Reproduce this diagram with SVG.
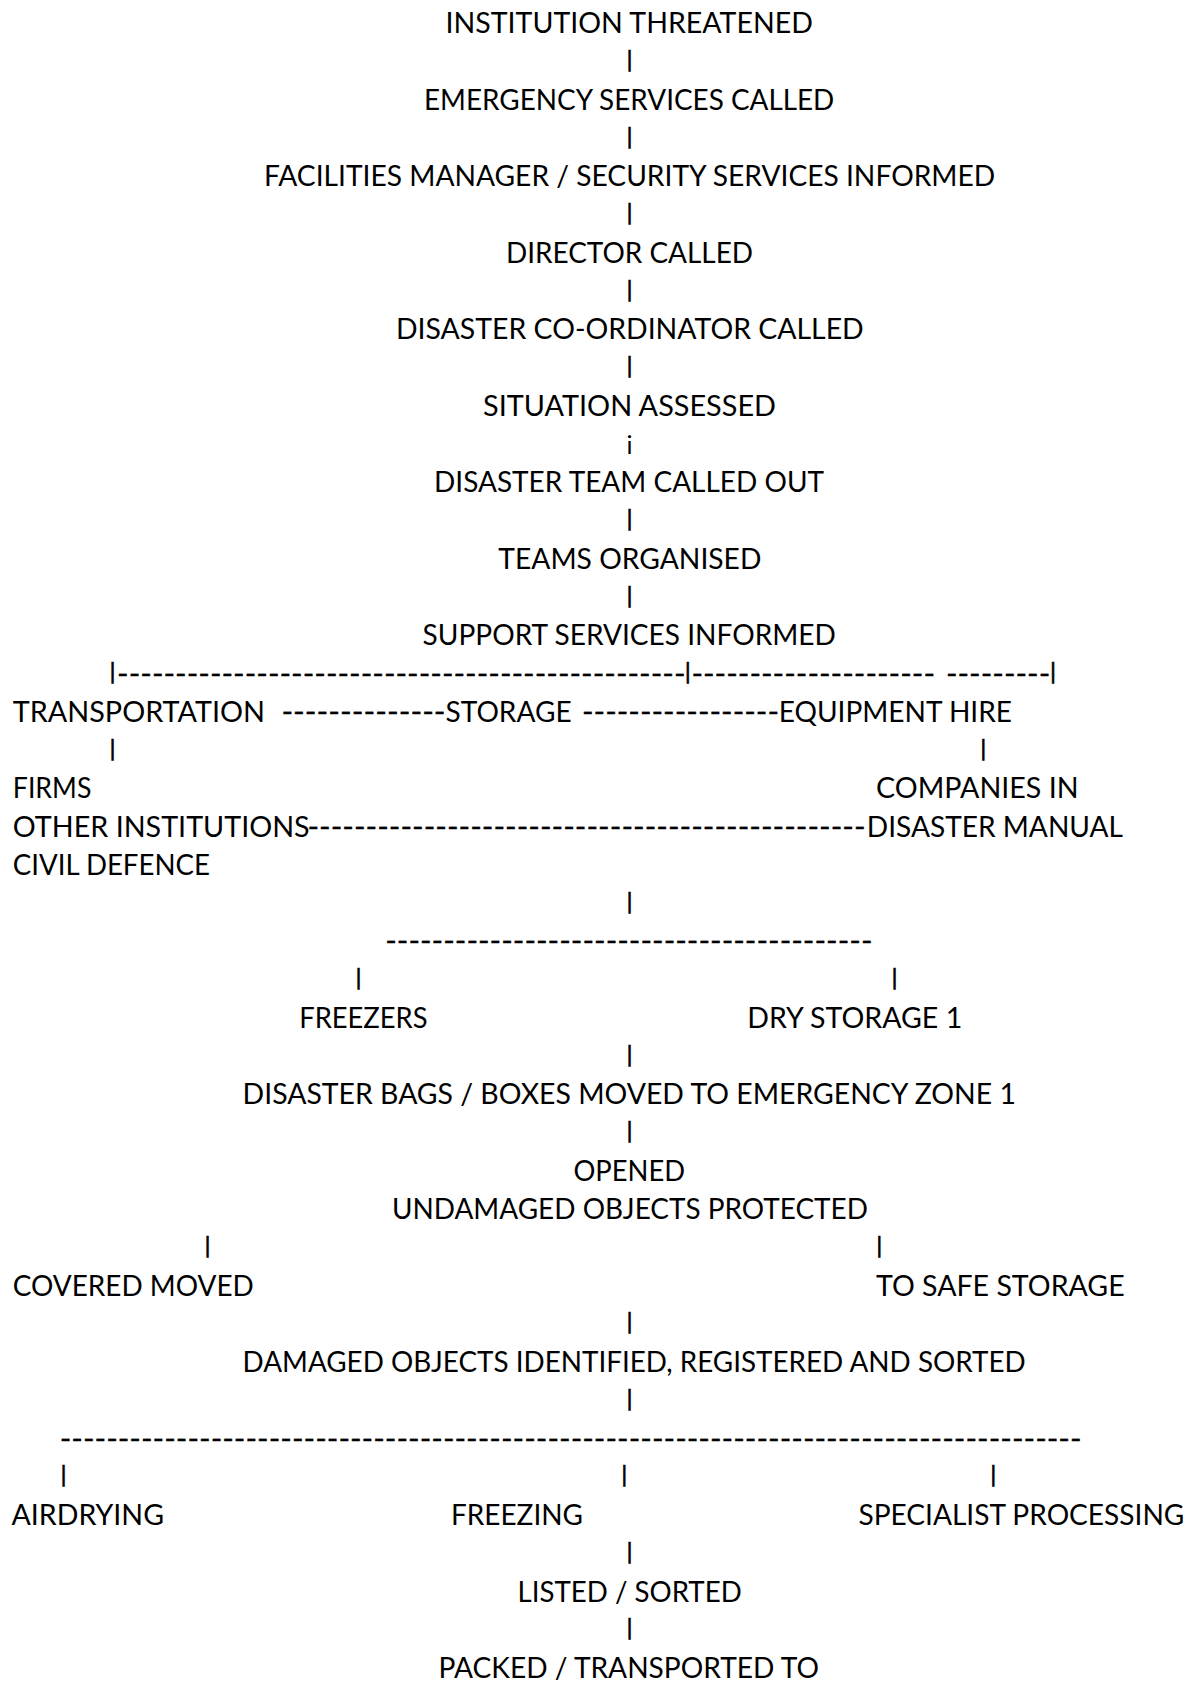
<svg xmlns="http://www.w3.org/2000/svg" width="1201" height="1706" viewBox="0 0 1201 1706">
<style>
text{font-family:Lato,"Open Sans","Liberation Sans",sans-serif;font-size:29px;fill:#000}
.bar{font-family:"DejaVu Sans",sans-serif;font-size:21px;text-anchor:middle;stroke:#000;stroke-width:0.6}
.dash{font-family:Lato,"Open Sans",sans-serif;font-size:29px;stroke:#000;stroke-width:0.3}
.i{font-size:25px;text-anchor:middle}
</style>
<rect width="1201" height="1706" fill="#fff"/>
<g id="nodes">
<g id="n-institution"><text x="445.5" y="33.3" textLength="367.4" lengthAdjust="spacingAndGlyphs">INSTITUTION THREATENED</text></g>
<g id="n-emergency"><text x="424" y="109.8" textLength="410.3" lengthAdjust="spacingAndGlyphs">EMERGENCY SERVICES CALLED</text></g>
<g id="n-facilities"><text x="264" y="186.3" textLength="731.2" lengthAdjust="spacingAndGlyphs">FACILITIES MANAGER / SECURITY SERVICES INFORMED</text></g>
<g id="n-director"><text x="506" y="262.8" textLength="247" lengthAdjust="spacingAndGlyphs">DIRECTOR CALLED</text></g>
<g id="n-coordinator"><text x="396" y="339.3" textLength="467.7" lengthAdjust="spacingAndGlyphs">DISASTER CO-ORDINATOR CALLED</text></g>
<g id="n-situation"><text x="483" y="415.8" textLength="293" lengthAdjust="spacingAndGlyphs">SITUATION ASSESSED</text></g>
<g id="n-team"><text x="434" y="492.3" textLength="390" lengthAdjust="spacingAndGlyphs">DISASTER TEAM CALLED OUT</text></g>
<g id="n-teams"><text x="498.3" y="568.8" textLength="263.1" lengthAdjust="spacingAndGlyphs">TEAMS ORGANISED</text></g>
<g id="n-support"><text x="422.6" y="645.3" textLength="413.3" lengthAdjust="spacingAndGlyphs">SUPPORT SERVICES INFORMED</text></g>
<g id="n-transportation"><text x="12.8" y="721.8" textLength="252.2" lengthAdjust="spacingAndGlyphs">TRANSPORTATION</text></g>
<g id="n-storage"><text x="445.5" y="721.8" textLength="126.1" lengthAdjust="spacingAndGlyphs">STORAGE</text></g>
<g id="n-equipment"><text x="778.7" y="721.8" textLength="233.3" lengthAdjust="spacingAndGlyphs">EQUIPMENT HIRE</text></g>
<g id="n-firms">
<text x="12.8" y="798.3" textLength="78.6" lengthAdjust="spacingAndGlyphs">FIRMS</text>
<text x="12.8" y="836.55" textLength="296.9" lengthAdjust="spacingAndGlyphs">OTHER INSTITUTIONS</text>
<text x="12.8" y="874.8" textLength="197.2" lengthAdjust="spacingAndGlyphs">CIVIL DEFENCE</text>
</g>
<g id="n-companies">
<text x="876" y="798.3" textLength="202.6" lengthAdjust="spacingAndGlyphs">COMPANIES IN</text>
<text x="866.8" y="836.55" textLength="256.2" lengthAdjust="spacingAndGlyphs">DISASTER MANUAL</text>
</g>
<g id="n-freezers"><text x="299.2" y="1027.8" textLength="128.4" lengthAdjust="spacingAndGlyphs">FREEZERS</text></g>
<g id="n-drystorage"><text x="747.3" y="1027.8" textLength="214.9" lengthAdjust="spacingAndGlyphs">DRY STORAGE 1</text></g>
<g id="n-bags"><text x="242.6" y="1104.3" textLength="773.3" lengthAdjust="spacingAndGlyphs">DISASTER BAGS / BOXES MOVED TO EMERGENCY ZONE 1</text></g>
<g id="n-opened">
<text x="573.4" y="1180.8" textLength="111.6" lengthAdjust="spacingAndGlyphs">OPENED</text>
<text x="391.9" y="1219.05" textLength="476.1" lengthAdjust="spacingAndGlyphs">UNDAMAGED OBJECTS PROTECTED</text>
</g>
<g id="n-covered"><text x="12.8" y="1295.55" textLength="241" lengthAdjust="spacingAndGlyphs">COVERED MOVED</text></g>
<g id="n-safe"><text x="876" y="1295.55" textLength="248.6" lengthAdjust="spacingAndGlyphs">TO SAFE STORAGE</text></g>
<g id="n-damaged"><text x="242.6" y="1372.05" textLength="783.2" lengthAdjust="spacingAndGlyphs">DAMAGED OBJECTS IDENTIFIED, REGISTERED AND SORTED</text></g>
<g id="n-airdrying"><text x="11.5" y="1525.05" textLength="152.5" lengthAdjust="spacingAndGlyphs">AIRDRYING</text></g>
<g id="n-freezing"><text x="451" y="1525.05" textLength="132" lengthAdjust="spacingAndGlyphs">FREEZING</text></g>
<g id="n-specialist"><text x="858.4" y="1525.05" textLength="326" lengthAdjust="spacingAndGlyphs">SPECIALIST PROCESSING</text></g>
<g id="n-listed"><text x="517.5" y="1601.55" textLength="224.2" lengthAdjust="spacingAndGlyphs">LISTED / SORTED</text></g>
<g id="n-packed"><text x="438.6" y="1678.05" textLength="380.4" lengthAdjust="spacingAndGlyphs">PACKED / TRANSPORTED TO</text></g>
</g>
<g id="connectors">
<text class="bar" x="629.6" y="66.05">|</text>
<text class="bar" x="629.6" y="142.55">|</text>
<text class="bar" x="629.6" y="219.05">|</text>
<text class="bar" x="629.6" y="295.55">|</text>
<text class="bar" x="629.6" y="372.05">|</text>
<text class="i" x="629.6" y="454.05">i</text>
<text class="bar" x="629.6" y="525.05">|</text>
<text class="bar" x="629.6" y="601.55">|</text>
<text class="bar" x="112.6" y="678.05">|</text>
<text class="dash" x="117.1" y="683.55" textLength="568.4" lengthAdjust="spacingAndGlyphs">-------------------------------------------------</text>
<text class="bar" x="687.8" y="678.05">|</text>
<text class="dash" x="691.4" y="683.55" textLength="243.6" lengthAdjust="spacingAndGlyphs">---------------------</text>
<text class="dash" x="945.9" y="683.55" textLength="104.4" lengthAdjust="spacingAndGlyphs">---------</text>
<text class="bar" x="1053" y="678.05">|</text>
<text class="dash" x="281.4" y="721.8" textLength="164.2" lengthAdjust="spacingAndGlyphs">--------------</text>
<text class="dash" x="582" y="721.8" textLength="197" lengthAdjust="spacingAndGlyphs">-----------------</text>
<text class="bar" x="112.6" y="754.55">|</text>
<text class="bar" x="983.4" y="754.55">|</text>
<text class="dash" x="307.4" y="836.55" textLength="558.2" lengthAdjust="spacingAndGlyphs">------------------------------------------------</text>
<text class="bar" x="629.6" y="907.55">|</text>
<text class="dash" x="385.2" y="951.3" textLength="487.3" lengthAdjust="spacingAndGlyphs">------------------------------------------</text>
<text class="bar" x="358.5" y="984.05">|</text>
<text class="bar" x="894.6" y="984.05">|</text>
<text class="bar" x="629.6" y="1060.55">|</text>
<text class="bar" x="629.6" y="1137.05">|</text>
<text class="bar" x="207.6" y="1251.8">|</text>
<text class="bar" x="879.3" y="1251.8">|</text>
<text class="bar" x="629.6" y="1328.3">|</text>
<text class="bar" x="629.6" y="1404.8">|</text>
<text class="dash" x="59.7" y="1448.55" textLength="1021.9" lengthAdjust="spacingAndGlyphs">----------------------------------------------------------------------------------------</text>
<text class="bar" x="63.6" y="1481.3">|</text>
<text class="bar" x="624.2" y="1481.3">|</text>
<text class="bar" x="993.4" y="1481.3">|</text>
<text class="bar" x="629.6" y="1557.8">|</text>
<text class="bar" x="629.6" y="1634.3">|</text>
</g>
</svg>
